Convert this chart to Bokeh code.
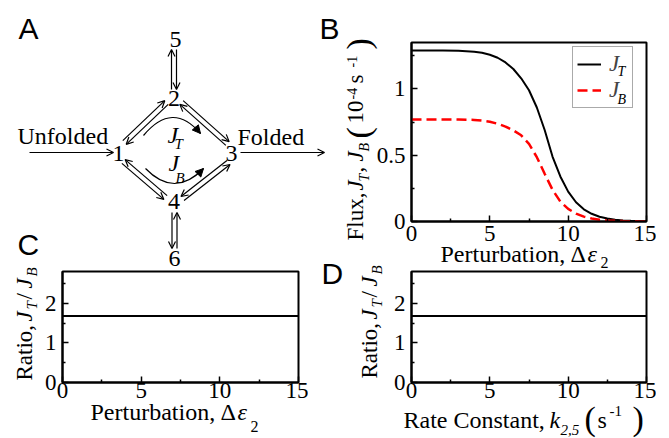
import math
from bokeh.plotting import figure
from bokeh.models import (Range1d, FixedTicker, CustomJSTickFormatter, Label, Arrow,
                          OpenHead, NormalHead, Legend, LegendItem)
from bokeh.embed import file_html
from bokeh.resources import INLINE

# ---------------- data ----------------
perturbation = [0, 1, 2, 3, 4, 4.5, 5, 5.5, 6, 6.5, 7, 7.5, 8, 8.5, 9, 9.5, 10,
                10.5, 11, 11.5, 12, 12.5, 13, 13.5, 14, 14.5, 15]
flux_JT = [1.29, 1.29, 1.289, 1.287, 1.28, 1.272, 1.258, 1.235, 1.20, 1.15, 1.08,
           0.99, 0.86, 0.69, 0.49, 0.34, 0.225, 0.145, 0.092, 0.058, 0.036, 0.022,
           0.013, 0.008, 0.005, 0.003, 0.002]
flux_JB = [0.77, 0.77, 0.77, 0.769, 0.766, 0.761, 0.752, 0.737, 0.716, 0.688, 0.65,
           0.585, 0.485, 0.36, 0.24, 0.15, 0.095, 0.06, 0.037, 0.023, 0.014, 0.008,
           0.005, 0.003, 0.002, 0.001, 0.0005]
ratio_pert_x = [0, 5, 10, 15]
ratio_pert = [1.68, 1.68, 1.68, 1.68]
rate_k25 = [0, 5, 10, 15]
ratio_rate = [1.68, 1.68, 1.68, 1.68]

x_ticks = [0, 5, 10, 15]
x_minor = [2.5, 7.5, 12.5]
flux_ticks = [0, 0.5, 1]
flux_minor = [0.25, 0.75, 1.25]
ratio_ticks = [0, 1, 2]
ratio_minor = [0.5, 1.5, 2.5]

SERIF = "Liberation Serif"
SANS = "Liberation Sans"

# ---------------- page layout (window pixels) ----------------
W, H = 669, 438
FR_B = (411, 646, 42, 221)   # frame left, right, top, bottom
FR_C = (62, 298, 271, 382)
FR_D = (411, 646, 271, 382)
XR = (0, 15)
YR_FLUX = (0, 1.35)
YR_RATIO = (0, 2.8)
BL, BR, BT, BB = 45, 10, 10, 35
K_BASE = 0.34   # baseline correction of Label text (fraction of font size)


def place(fig, left, top, z):
    fig.styles = {"position": "absolute", "left": f"{left}px", "top": f"{top}px",
                  "z-index": str(z)}


def make_axes_fig(frame, yr, yt, ym, xstand):
    l, r, t, b = frame
    p = figure(width=(r - l) + BL + BR, height=(b - t) + BT + BB,
               x_range=Range1d(*XR), y_range=Range1d(*yr),
               output_backend="svg", toolbar_location=None, tools="",
               min_border_left=BL, min_border_right=BR,
               min_border_top=BT, min_border_bottom=BB)
    place(p, l - BL, t - BT, 1)
    p.xgrid.visible = False
    p.ygrid.visible = False
    p.outline_line_color = "black"
    p.outline_line_width = 2
    p.background_fill_color = "white"
    p.border_fill_color = "white"
    p.border_fill_alpha = 0.0
    p.xaxis.ticker = FixedTicker(ticks=x_ticks, minor_ticks=x_minor)
    p.yaxis.ticker = FixedTicker(ticks=yt, minor_ticks=ym)
    for ax in (p.xaxis[0], p.yaxis[0]):
        ax.axis_line_color = "black"
        ax.axis_line_width = 2
        ax.major_tick_in = 6
        ax.major_tick_out = 0
        ax.minor_tick_in = 3
        ax.minor_tick_out = 0
        ax.major_tick_line_color = "black"
        ax.minor_tick_line_color = "black"
        ax.major_tick_line_width = 1.5
        ax.minor_tick_line_width = 1.5
        ax.major_label_text_font = SERIF
        ax.major_label_text_font_size = "23px"
        ax.major_label_text_color = "black"
    p.xaxis.major_label_standoff = xstand
    p.yaxis.major_label_standoff = 6
    p.yaxis.formatter = CustomJSTickFormatter(code="return tick.toString();")
    return p


# ---------------- panel B : fluxes ----------------
pB = make_axes_fig(FR_B, YR_FLUX, flux_ticks, flux_minor, 4)
rT = pB.line(perturbation, flux_JT, line_color="black", line_width=2)
rB = pB.line(perturbation, flux_JB, line_color="#ff0000", line_width=2.5, line_dash="10 5")
leg = Legend(items=[LegendItem(label="J", renderers=[rT]), LegendItem(label="J", renderers=[rB])],
             location=(161, 113), orientation="vertical", padding=4, spacing=0, margin=0,
             glyph_width=24, glyph_height=20, label_standoff=8, label_width=19,
             label_height=20, label_text_font=SERIF, label_text_font_style="italic",
             label_text_font_size="23px", border_line_color="#555555", border_line_width=1,
             background_fill_color="white", background_fill_alpha=1.0)
pB.add_layout(leg)

# ---------------- panel C : ratio vs perturbation ----------------
pC = make_axes_fig(FR_C, YR_RATIO, ratio_ticks, ratio_minor, 0)
pC.line(ratio_pert_x, ratio_pert, line_color="black", line_width=2)

# ---------------- panel D : ratio vs rate constant ----------------
pD = make_axes_fig(FR_D, YR_RATIO, ratio_ticks, ratio_minor, 0)
pD.line(rate_k25, ratio_rate, line_color="black", line_width=2)

# ---------------- overlay: scheme (panel A), labels ----------------
pO = figure(width=W, height=H, x_range=Range1d(0, W), y_range=Range1d(H, 0),
            output_backend="svg", toolbar_location=None, tools="",
            x_axis_type=None, y_axis_type=None, min_border=0)
place(pO, 0, 0, 5)
pO.outline_line_color = None
pO.background_fill_alpha = 0.0
pO.border_fill_alpha = 0.0

UP = math.pi / 2


def text(px, py, s, size, style="normal", font=SERIF, angle=0.0, align="left"):
    if angle == 0.0:
        py = py - K_BASE * size
    else:
        px = px - K_BASE * size
    pO.add_layout(Label(x=px, y=py, text=s, text_font=font, text_font_size=f"{size}px",
                        text_font_style=style, angle=angle, text_align=align,
                        text_baseline="alphabetic", text_color="black"))


def arrow(P, Q, head="open", lw=1.2):
    if head == "open":
        h = OpenHead(size=7, line_width=lw, line_color="black")
    else:
        h = NormalHead(size=8, line_width=1, line_color="black", fill_color="black")
    pO.add_layout(Arrow(end=h, x_start=P[0], y_start=P[1], x_end=Q[0], y_end=Q[1],
                        line_width=lw, line_color="black"))


def pair(P, Q, side, gap=2.5):
    dx, dy = Q[0] - P[0], Q[1] - P[1]
    L = math.hypot(dx, dy)
    nx, ny = dy / L, -dx / L
    o = side * gap
    arrow((P[0] + o * nx, P[1] + o * ny), (Q[0] + o * nx, Q[1] + o * ny))
    arrow((Q[0] - o * nx, Q[1] - o * ny), (P[0] - o * nx, P[1] - o * ny))


# panel letters
text(18, 38, "A", 30, font=SANS)
text(319, 38, "B", 30, font=SANS)
text(17, 254, "C", 30, font=SANS)
text(321, 283, "D", 30, font=SANS)

# scheme nodes
node_labels = ["5", "2", "1", "3", "4", "6"]
node_x = [175, 173.5, 118, 231, 173.5, 174]
node_y = [47, 106, 161, 161, 209, 266]
for s, nx_, ny_ in zip(node_labels, node_x, node_y):
    text(nx_, ny_, s, 24, align="center")

text(17, 144, "Unfolded", 24)
text(237, 145, "Folded", 24)
text(167, 143, "J", 24, style="italic")
text(174, 149, "T", 15, style="italic")
text(168, 171, "J", 24, style="italic")
text(175, 183, "B", 15, style="italic")

arrow((29, 152), (113, 152))
arrow((240, 152), (324, 152))
pair((124, 142), (166, 102), 1)      # 1 - 2
pair((181, 102), (227, 143), 1)      # 2 - 3
pair((123, 161), (165, 197), -1)     # 1 - 4
pair((182, 198), (228, 162), -1)     # 4 - 3
pair((173.5, 49), (173.5, 89), 1)    # 5 - 2
pair((174, 212), (174, 248), -1)     # 4 - 6

arc_x0 = [143, 145]
arc_y0 = [135, 168]
arc_x1 = [200, 203]
arc_y1 = [133, 168]
arc_cx = [172, 174]
arc_cy = [100, 198]
pO.quadratic(x0=arc_x0, y0=arc_y0, x1=arc_x1, y1=arc_y1, cx=arc_cx, cy=arc_cy,
             line_color="black", line_width=1.2)
for x1, y1, cx, cy in zip(arc_x1, arc_y1, arc_cx, arc_cy):
    arrow((x1 - 0.2 * (x1 - cx), y1 - 0.2 * (y1 - cy)), (x1, y1), head="normal")

# legend subscripts (panel B)
text(617, 76, "T", 14, style="italic")
text(617, 104, "B", 14, style="italic")

# panel B axis labels
text(363, 240, "Flux,", 23, angle=UP)
text(363, 190, "J", 23, style="italic", angle=UP)
text(369, 181, "T", 14, style="italic", angle=UP)
text(363, 172, ",", 23, angle=UP)
text(363, 161, "J", 23, style="italic", angle=UP)
text(369, 151, "B", 14, style="italic", angle=UP)
text(370, 138, "(", 34, angle=UP)
text(363, 123, "10", 23, angle=UP)
text(356, 99, "-4", 14, angle=UP)
text(363, 83, "s", 23, angle=UP)
text(356, 67, "-1", 14, angle=UP)
text(370, 49, ")", 34, angle=UP)
text(440, 262, "Perturbation,", 24)
text(570, 262, "\u0394", 24)
text(587, 262, "\u03b5", 24, style="italic")
text(600, 267, "2", 16)

# panel C axis labels
text(32, 380, "Ratio,", 23, angle=UP)
text(32, 321, "J", 23, style="italic", angle=UP)
text(37, 309, "T", 15, style="italic", angle=UP)
text(32, 299, "/", 23, angle=UP)
text(32, 288, "J", 23, style="italic", angle=UP)
text(37, 276, "B", 15, style="italic", angle=UP)
text(90, 420, "Perturbation,", 24)
text(220, 420, "\u0394", 24)
text(237, 420, "\u03b5", 24, style="italic")
text(250, 431, "2", 16)

# panel D axis labels
text(377, 378, "Ratio,", 23, angle=UP)
text(377, 319, "J", 23, style="italic", angle=UP)
text(382, 307, "T", 15, style="italic", angle=UP)
text(377, 297, "/", 23, angle=UP)
text(377, 286, "J", 23, style="italic", angle=UP)
text(382, 274, "B", 15, style="italic", angle=UP)
text(403, 428, "Rate Constant,", 24)
text(549, 428, "k", 24, style="italic")
text(560, 435, "2,5", 15, style="italic")
text(584, 430, "(", 34)
text(597, 428, "s", 24)
text(609, 416, "-1", 15)
text(632, 430, ")", 34)

open("out.html", "w").write(file_html([pB, pC, pD, pO], INLINE))
